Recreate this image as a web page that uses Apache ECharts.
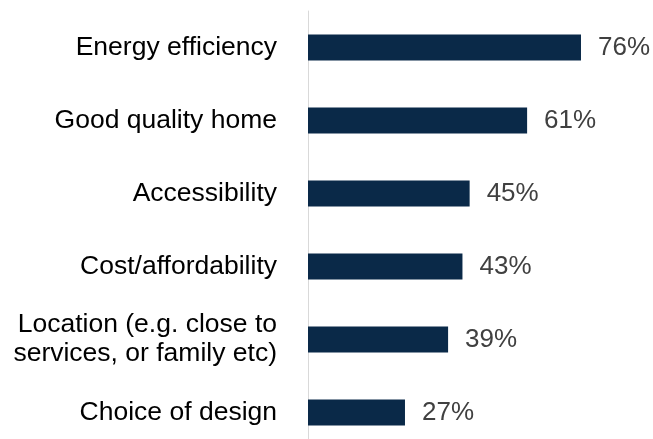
<!DOCTYPE html>
<html>
<head>
<meta charset="utf-8">
<script src="https://cdn.jsdelivr.net/npm/echarts@6/dist/echarts.min.js"></script>
<style>
  html, body { margin: 0; padding: 0; background: #ffffff; }
  #chart { width: 653px; height: 439px; }
</style>
</head>
<body>
<div id="chart"></div>
<script>
// Factors rated important, share of respondents (%)
const categories = [
  'Energy efficiency',
  'Good quality home',
  'Accessibility',
  'Cost/affordability',
  'Location (e.g. close to\nservices, or family etc)',
  'Choice of design'
];
const shares = [76, 61, 45, 43, 39, 27];

const FONT = '"Liberation Sans", Arial, sans-serif';

const chart = echarts.init(document.getElementById('chart'), null, { renderer: 'canvas' });

chart.setOption({
  animation: false,
  backgroundColor: '#ffffff',
  grid: {
    left: 308, top: 11, width: 359.2, height: 438,
    containLabel: false,
    outerBoundsMode: 'none'
  },
  xAxis: {
    type: 'value',
    min: 0,
    max: 100,
    show: false,
    splitLine: { show: false }
  },
  yAxis: {
    type: 'category',
    data: categories,
    inverse: true,
    axisLine: { show: true, lineStyle: { color: '#d9d9d9', width: 1 } },
    axisTick: { show: false },
    axisLabel: {
      margin: 31,
      color: '#000000',
      fontFamily: FONT,
      fontSize: 26.5,
      lineHeight: 29,
      align: 'right'
    },
    splitLine: { show: false }
  },
  series: [{
    type: 'bar',
    data: shares,
    barWidth: 26,
    itemStyle: { color: '#0A2948' },
    label: {
      show: true,
      position: 'right',
      distance: 17,
      formatter: p => p.value + '%',
      color: '#404040',
      fontFamily: FONT,
      fontSize: 26
    }
  }]
});
</script>
</body>
</html>
